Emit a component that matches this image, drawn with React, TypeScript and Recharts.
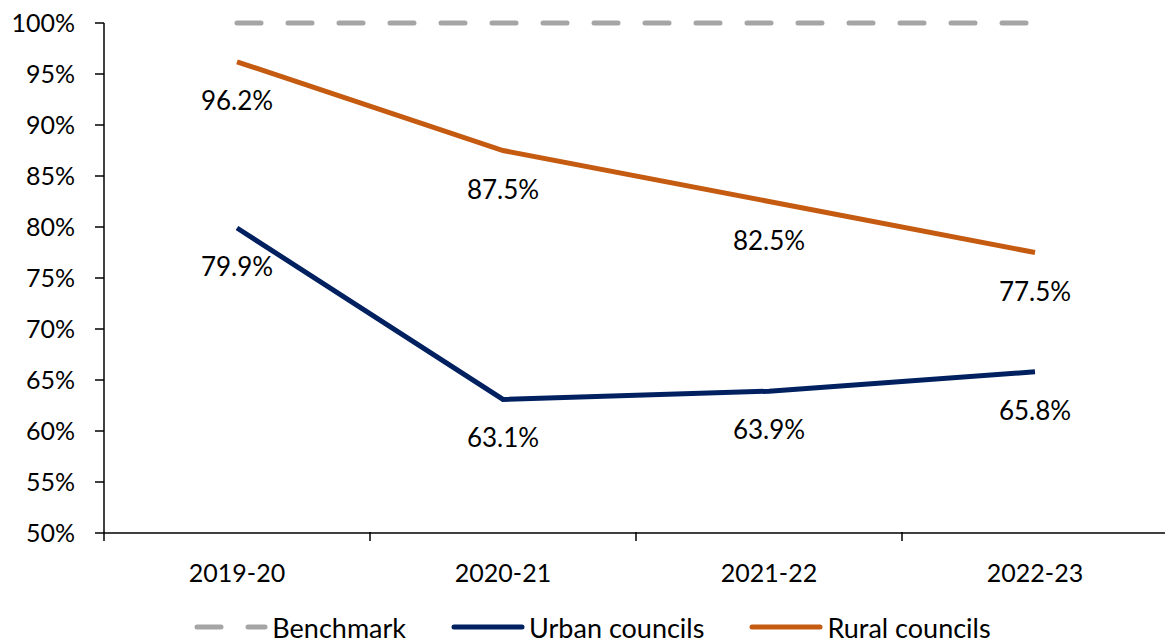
import React from 'react';
import { CartesianGrid, Legend, LabelList, Line, LineChart, XAxis, YAxis } from 'recharts';

const years = ['2019-20', '2020-21', '2021-22', '2022-23'];
const benchmark = [100, 100, 100, 100];
const urban = [79.9, 63.1, 63.9, 65.8];
const rural = [96.2, 87.5, 82.5, 77.5];
const yTicks = [50, 55, 60, 65, 70, 75, 80, 85, 90, 95, 100];

const data = years.map((year, i) => ({
  year,
  benchmark: benchmark[i],
  urban: urban[i],
  rural: rural[i],
}));

const FONT = 'Lato, "Open Sans", sans-serif';
const GREY = '#A5A5A5';
const NAVY = '#002060';
const ORANGE = '#C55A11';
const HALF_BAND = 133;

const XTick = (props: any) => {
  const { x, y, payload } = props;
  return (
    <g>
      <line x1={x - HALF_BAND} y1={y - 9} x2={x - HALF_BAND} y2={y} stroke="#000" strokeWidth={1.5} />
      <text x={x} y={y + 31} textAnchor="middle" dominantBaseline="central" fontSize={25} fill="#000" fontFamily={FONT}>
        {payload.value}
      </text>
    </g>
  );
};

const DataLabel = (props: any) => {
  const { x, y, value } = props;
  return (
    <text x={x} y={y + 38} textAnchor="middle" dominantBaseline="central" fontSize={26} fill="#000" fontFamily={FONT}>
      {`${value.toFixed(1)}%`}
    </text>
  );
};

const legendItems = [
  { label: 'Benchmark', color: GREY, dashed: true },
  { label: 'Urban councils', color: NAVY, dashed: false },
  { label: 'Rural councils', color: ORANGE, dashed: false },
];

const LegendContent = () => (
  <div
    style={{
      display: 'flex',
      justifyContent: 'center',
      alignItems: 'center',
      gap: 45,
      height: 34,
      width: 1165,
      paddingLeft: 20,
      boxSizing: 'border-box',
      fontFamily: FONT,
      fontSize: 27,
      lineHeight: 1,
      color: '#000',
    }}
  >
    {legendItems.map((item) => (
      <div key={item.label} style={{ display: 'flex', alignItems: 'center', gap: 4 }}>
        <svg width={74} height={10}>
          {item.dashed ? (
            <>
              <line x1={3} y1={5} x2={27} y2={5} stroke={item.color} strokeWidth={5} strokeLinecap="round" />
              <line x1={54} y1={5} x2={71} y2={5} stroke={item.color} strokeWidth={5} strokeLinecap="round" />
            </>
          ) : (
            <line x1={3} y1={5} x2={71} y2={5} stroke={item.color} strokeWidth={5} strokeLinecap="round" />
          )}
        </svg>
        <span>{item.label}</span>
      </div>
    ))}
  </div>
);

export default function App() {
  return (
    <div style={{ position: 'absolute', left: 0, top: 0, width: 1165, height: 644, overflow: 'hidden', background: '#fff' }}>
      <LineChart width={1168} height={644} data={data} margin={{ top: 23, right: 0, left: 0, bottom: 0 }}>
        <CartesianGrid horizontal={false} vertical={false} />
        <XAxis
          dataKey="year"
          padding={{ left: HALF_BAND, right: HALF_BAND }}
          axisLine={{ stroke: '#000', strokeWidth: 1.5 }}
          tickLine={false}
          tick={<XTick />}
          height={77}
          interval={0}
        />
        <YAxis
          domain={[50, 100]}
          ticks={yTicks}
          tickFormatter={(v: number) => `${v}%`}
          width={104}
          axisLine={{ stroke: '#000', strokeWidth: 1.5 }}
          tickLine={{ stroke: '#000', strokeWidth: 1.5 }}
          tickSize={9}
          tickMargin={20}
          tick={{ fill: '#000', fontSize: 25, fontFamily: FONT }}
          interval={0}
        />
        <Legend verticalAlign="bottom" content={<LegendContent />} />
        <Line
          dataKey="benchmark"
          name="Benchmark"
          stroke={GREY}
          strokeWidth={5}
          strokeDasharray="24 27"
          strokeLinecap="round"
          dot={false}
          isAnimationActive={false}
        />
        <Line
          dataKey="urban"
          name="Urban councils"
          stroke={NAVY}
          strokeWidth={5}
          type="linear"
          dot={false}
          isAnimationActive={false}
        >
          <LabelList dataKey="urban" content={<DataLabel />} />
        </Line>
        <Line
          dataKey="rural"
          name="Rural councils"
          stroke={ORANGE}
          strokeWidth={5}
          type="linear"
          dot={false}
          isAnimationActive={false}
        >
          <LabelList dataKey="rural" content={<DataLabel />} />
        </Line>
      </LineChart>
    </div>
  );
}
